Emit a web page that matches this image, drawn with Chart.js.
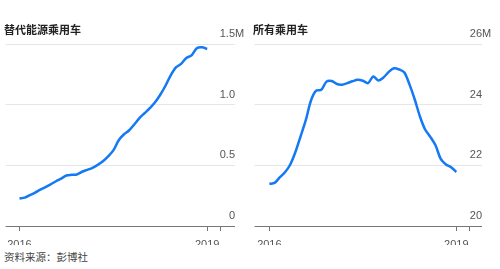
<!DOCTYPE html>
<html>
<head>
<meta charset="utf-8">
<script src="https://cdn.jsdelivr.net/npm/chart.js@4"></script>
<style>
  body { margin: 0; background: #fff; width: 500px; height: 269px; position: relative; overflow: hidden;
         font-family: "Liberation Sans", Arial, "Noto Sans CJK SC", sans-serif; }
  .panel { position: absolute; top: 0; width: 250px; height: 245px; }
  .title { position: absolute; top: 21px; font-size: 11px; font-weight: bold; color: #222;
           font-family: "Noto Sans CJK SC", sans-serif; }
  .source { position: absolute; left: 4px; top: 249px; font-size: 10.5px; color: #444;
            font-family: "Noto Sans CJK SC", sans-serif; }
</style>
</head>
<body>
<div class="panel" style="left:0"><canvas id="nevChart"></canvas></div>
<div class="panel" style="left:250px"><canvas id="allChart"></canvas></div>
<div class="title" style="left:4px">替代能源乘用车</div>
<div class="title" style="left:253px">所有乘用车</div>
<div class="source">资料来源：彭博社</div>
<script>
// monthly, Jan 2016 -> Jan 2019 (millions of vehicles)
const nevValues = [0.227, 0.234, 0.254, 0.275, 0.299, 0.320, 0.344, 0.369, 0.391, 0.416,
  0.422, 0.425, 0.447, 0.463, 0.480, 0.504, 0.533, 0.574, 0.623, 0.705,
  0.754, 0.787, 0.836, 0.889, 0.930, 0.971, 1.020, 1.082, 1.156, 1.242,
  1.307, 1.336, 1.385, 1.406, 1.465, 1.473, 1.459];

const allValues = [21.39, 21.42, 21.60, 21.77, 22.02, 22.43, 22.95, 23.48, 24.13, 24.46,
  24.49, 24.76, 24.78, 24.68, 24.66, 24.71, 24.77, 24.82, 24.79, 24.71,
  24.93, 24.80, 24.90, 25.08, 25.20, 25.16, 25.06, 24.66, 24.17, 23.61,
  23.18, 22.94, 22.66, 22.21, 22.03, 21.94, 21.78];

const xTickValues = [0, 36, 38.6];
const xTickLabels = ['2016', '2019', ''];

const nevTicks = [0, 0.5, 1.0, 1.5];
const nevTickLabels = ['0', '0.5', '1.0', '1.5'];
const allTicks = [20, 22, 24, 26];
const allTickLabels = ['20', '22', '24', '26'];

const lineColor = '#1479f5';

// y labels sit above the gridlines, numbers right-aligned, "M" hangs past the end
const yLabelPlugin = {
    id: 'yLabels',
    afterDraw(chart, args, opts) {
        const ctx = chart.ctx;
        const y = chart.scales.y;
        const right = chart.chartArea.right;
        ctx.save();
        ctx.font = '11px "Liberation Sans", Arial, sans-serif';
        ctx.fillStyle = '#555';
        ctx.textBaseline = 'middle';
        opts.values.forEach((v, i) => {
            const py = y.getPixelForValue(v) - 10;
            ctx.textAlign = 'right';
            ctx.fillText(opts.labels[i], right, py);
            if (i === opts.values.length - 1) {
                ctx.textAlign = 'left';
                ctx.fillText('M', right, py);
            }
        });
        ctx.restore();
    }
};

function makeChart(id, values, yMin, yMax, ticks, tickLabels, xMin, xMax, padLeft, padRight) {
    const ctx = document.getElementById(id).getContext('2d');
    return new Chart(ctx, {
        type: 'line',
        data: {
            datasets: [{
                data: values.map((v, i) => ({ x: i, y: v })),
                borderColor: lineColor,
                borderWidth: 2.5,
                pointRadius: 0,
                tension: 0.3,
                fill: false
            }]
        },
        options: {
            responsive: true,
            maintainAspectRatio: false,
            animation: false,
            layout: { padding: { left: padLeft, right: padRight, top: 44, bottom: 0 } },
            plugins: {
                legend: { display: false },
                tooltip: { enabled: false },
                yLabels: { values: ticks, labels: tickLabels }
            },
            scales: {
                x: {
                    type: 'linear',
                    min: xMin,
                    max: xMax,
                    afterBuildTicks: scale => { scale.ticks = xTickValues.map(v => ({ value: v })); },
                    afterFit: scale => { scale.height = 19; },
                    grid: { drawOnChartArea: false, tickLength: 5, color: '#777', lineWidth: 1 },
                    border: { display: false },
                    ticks: {
                        padding: 7,
                        color: '#555',
                        maxRotation: 0,
                        autoSkip: false,
                        font: { family: '"Liberation Sans", Arial, sans-serif', size: 11 },
                        callback: (v, i) => xTickLabels[i]
                    }
                },
                y: {
                    position: 'right',
                    min: yMin,
                    max: yMax,
                    afterBuildTicks: scale => { scale.ticks = ticks.map(v => ({ value: v })); },
                    afterFit: scale => { scale.width = 0; },
                    grid: {
                        drawTicks: false,
                        color: c => c.tick.value === yMin ? '#777' : '#e6e6e6',
                        lineWidth: 1
                    },
                    border: { display: false },
                    ticks: { display: false }
                }
            }
        },
        plugins: [yLabelPlugin]
    });
}

makeChart('nevChart', nevValues, 0, 1.5, nevTicks, nevTickLabels, -2.667, 41.33, 4, 15);
makeChart('allChart', allValues, 20, 26, allTicks, allTickLabels, -2.857, 40.95, 2, 18);
</script>
</body>
</html>
